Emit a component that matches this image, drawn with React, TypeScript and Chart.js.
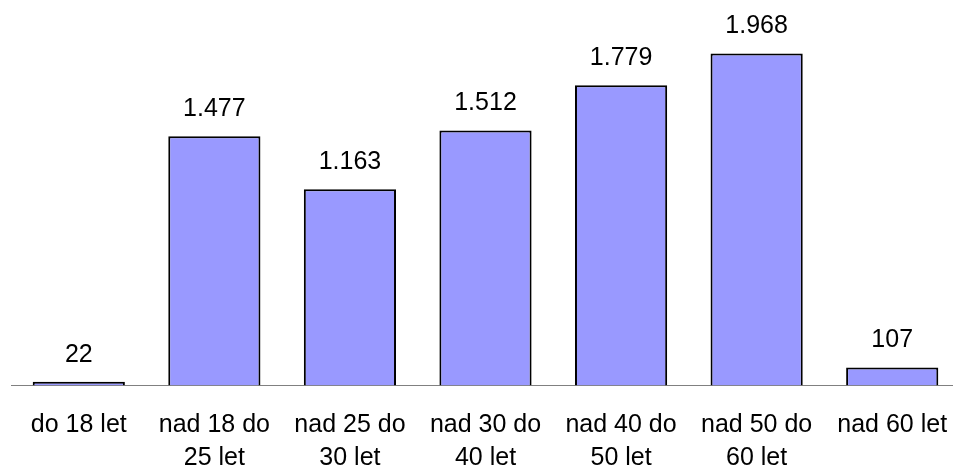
import React, { useEffect, useRef } from "react";
import { Chart, registerables } from "chart.js";

Chart.register(...registerables);

const categories: string[][] = [
  ["do 18 let"],
  ["nad 18 do", "25 let"],
  ["nad 25 do", "30 let"],
  ["nad 30 do", "40 let"],
  ["nad 40 do", "50 let"],
  ["nad 50 do", "60 let"],
  ["nad 60 let"],
];
const values: number[] = [22, 1477, 1163, 1512, 1779, 1968, 107];
const valueLabels: string[] = ["22", "1.477", "1.163", "1.512", "1.779", "1.968", "107"];

const FONT = "'Liberation Sans', Arial, sans-serif";

const valueLabelPlugin = {
  id: "valueLabels",
  afterDatasetsDraw(chart: any) {
    const ctx = chart.ctx;
    const meta = chart.getDatasetMeta(0);
    ctx.save();
    ctx.font = `25px ${FONT}`;
    ctx.fillStyle = "#000";
    ctx.textAlign = "center";
    ctx.textBaseline = "alphabetic";
    meta.data.forEach((bar: any, i: number) => {
      ctx.fillText(valueLabels[i], bar.x, bar.y - 20);
    });
    ctx.restore();
  },
};

export default function App() {
  const ref = useRef<HTMLCanvasElement | null>(null);
  useEffect(() => {
    if (!ref.current) return;
    const chart = new Chart(ref.current, {
      type: "bar",
      data: {
        labels: categories,
        datasets: [
          {
            data: values,
            backgroundColor: "#9999FF",
            borderColor: "#000000",
            borderWidth: 2,
            categoryPercentage: 1,
            barPercentage: 0.68,
          },
        ],
      },
      options: {
        animation: false,
        responsive: true,
        maintainAspectRatio: false,
        layout: { padding: { left: 11, right: 0, top: 0, bottom: 0 } },
        plugins: {
          legend: { display: false },
          tooltip: { enabled: false },
        },
        scales: {
          x: {
            grid: { display: false, drawTicks: false },
            border: { display: true, color: "#808080", width: 1 },
            ticks: {
              color: "#000",
              font: { family: FONT, size: 25, lineHeight: 1.32 },
              padding: 23,
              maxRotation: 0,
              autoSkip: false,
            },
            afterFit: (scale: any) => {
              scale.height = 81.5;
              scale.paddingLeft = 0;
              scale.paddingRight = 0;
            },
          },
          y: {
            display: false,
            min: 0,
            max: 2285,
          },
        },
      },
      plugins: [valueLabelPlugin],
    });
    return () => chart.destroy();
  }, []);
  return (
    <div style={{ position: "absolute", left: 0, top: 0, width: 953, height: 467, overflow: "hidden", background: "#fff" }}>
      <div style={{ position: "relative", width: 960, height: 467 }}>
        <canvas ref={ref} />
      </div>
    </div>
  );
}
